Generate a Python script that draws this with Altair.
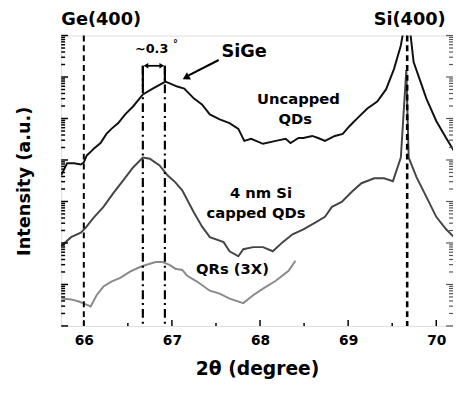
import altair as alt
import pandas as pd
import numpy as np

# ---- data (2theta in degrees, log10 intensity in arbitrary decades) ----
unc_x = [65.743, 65.810, 65.888, 65.966, 66.000, 66.034, 66.089, 66.112, 66.190, 66.257,
         66.313, 66.391, 66.469, 66.559, 66.670, 66.782, 66.927, 67.061, 67.140, 67.251,
         67.341, 67.430, 67.542, 67.654, 67.754, 67.821, 67.899, 68.034, 68.179, 68.291,
         68.346, 68.436, 68.492, 68.592, 68.659, 68.737, 68.849, 68.939, 69.017, 69.106,
         69.218, 69.330, 69.430, 69.520, 69.598, 69.660, 69.709, 69.743, 69.821, 69.888,
         70.000, 70.112, 70.201]
unc_y = [3.63, 3.92, 3.92, 3.89, 3.94, 4.11, 4.22, 4.27, 4.41, 4.63,
         4.75, 4.89, 5.10, 5.29, 5.58, 5.72, 5.89, 5.77, 5.72, 5.48,
         5.34, 5.10, 4.98, 4.89, 4.75, 4.46, 4.51, 4.39, 4.46, 4.51,
         4.41, 4.53, 4.53, 4.58, 4.53, 4.46, 4.58, 4.63, 4.82, 5.01,
         5.24, 5.41, 5.70, 6.19, 6.76, 7.50, 7.00, 6.36, 5.89, 5.48,
         4.94, 4.53, 4.22]

cap_x = [65.743, 65.855, 65.966, 66.022, 66.112, 66.223, 66.335, 66.447, 66.559, 66.670,
         66.749, 66.860, 66.950, 67.039, 67.117, 67.251, 67.341, 67.430, 67.587, 67.654,
         67.754, 67.810, 67.922, 68.034, 68.145, 68.257, 68.369, 68.492, 68.626, 68.737,
         68.816, 68.927, 69.039, 69.151, 69.296, 69.408, 69.508, 69.598, 69.660, 69.687,
         69.777, 69.888, 70.000, 70.112, 70.201]
cap_y = [1.92, 2.14, 2.25, 2.37, 2.61, 2.87, 3.20, 3.51, 3.82, 4.06,
         4.03, 3.87, 3.63, 3.46, 3.27, 2.73, 2.40, 2.14, 2.02, 1.80,
         1.68, 1.85, 1.90, 1.90, 1.80, 2.02, 2.21, 2.33, 2.49, 2.63,
         2.87, 2.99, 3.23, 3.44, 3.56, 3.56, 3.49, 4.06, 6.17, 4.06,
         3.58, 3.11, 2.63, 2.33, 2.14]

qr_x = [65.743, 65.855, 65.944, 66.022, 66.078, 66.145, 66.223, 66.313, 66.413, 66.525,
        66.637, 66.704, 66.816, 66.894, 66.972, 67.039, 67.117, 67.173, 67.285, 67.430,
        67.542, 67.654, 67.810, 67.922, 68.034, 68.179, 68.324, 68.402]
qr_y = [0.66, 0.64, 0.59, 0.52, 0.47, 0.74, 0.95, 1.07, 1.16, 1.31,
        1.42, 1.47, 1.54, 1.54, 1.47, 1.38, 1.35, 1.21, 1.07, 0.85,
        0.78, 0.66, 0.55, 0.74, 0.90, 1.09, 1.33, 1.57]

series_names = ["Uncapped QDs", "4 nm Si capped QDs", "QRs (3X)"]
series_colors = ["#111111", "#454545", "#8a8a8a"]

x_ticks = [66, 67, 68, 69, 70]
x_minor = [66.5, 67.5, 68.5, 69.5]
ref_dashed = [66.0, 69.67]      # Ge(400), Si(400)
ref_dashdot = [66.67, 66.92]    # SiGe peak positions

XDOM = [65.743, 70.19]
YDOM = [0, 7]
W, H = 398, 295
FONT = "DejaVu Sans"

rows = []
for nm, xs_, ys_ in zip(series_names, [unc_x, cap_x, qr_x], [unc_y, cap_y, qr_y]):
    for i, (a, b) in enumerate(zip(xs_, ys_)):
        rows.append({"series": nm, "x": a, "y": b, "o": i})
df = pd.DataFrame(rows)

xs = alt.Scale(domain=XDOM, nice=False, zero=False)
ys = alt.Scale(domain=YDOM, nice=False, zero=False)

curves = alt.Chart(df).mark_line(strokeWidth=2, clip=True).encode(
    x=alt.X("x:Q", scale=xs, axis=alt.Axis(values=x_ticks, format="d", ticks=False, domain=False, grid=False,
                                            labelFont=FONT, labelFontSize=14, labelFontWeight="bold",
                                            labelColor="black", labelPadding=8,
                                            title="2θ (degree)", titleFont=FONT, titleFontSize=19,
                                            titleFontWeight="bold", titleColor="black", titlePadding=12)),
    y=alt.Y("y:Q", scale=ys, axis=alt.Axis(labels=False, ticks=False, domain=False, grid=False,
                                            title="Intensity (a.u.)", titleFont=FONT, titleFontSize=18,
                                            titleFontWeight="bold", titleColor="black", titlePadding=28)),
    color=alt.Color("series:N", scale=alt.Scale(domain=series_names, range=series_colors), legend=None),
    order="o:Q",
)

# dashed reference lines
dash_df = pd.DataFrame({"x": ref_dashed, "w": [2, 2.6]})
dashed = alt.Chart(dash_df).mark_rule(color="black", strokeDash=[6, 4]).encode(
    x=alt.X("x:Q", scale=xs), y=alt.value(0), y2=alt.value(H),
    strokeWidth=alt.StrokeWidth("w:Q", scale=None),
)

br_top = 6.27
dd_df = pd.DataFrame({"x": ref_dashdot, "y": [br_top, br_top], "y2": [0, 0]})
dashdot = alt.Chart(dd_df).mark_rule(color="black", strokeWidth=2.2, strokeDash=[9, 4, 2, 4]).encode(
    x=alt.X("x:Q", scale=xs), y=alt.Y("y:Q", scale=ys), y2="y2:Q",
)
brv_df = pd.DataFrame({"x": ref_dashdot, "y": [br_top, br_top], "y2": [5.77, 5.9]})
bracket_v = alt.Chart(brv_df).mark_rule(color="black", strokeWidth=2.2).encode(
    x=alt.X("x:Q", scale=xs), y=alt.Y("y:Q", scale=ys), y2="y2:Q",
)
brh_df = pd.DataFrame({"x": [ref_dashdot[0] + 0.03], "x2": [ref_dashdot[1] - 0.03], "y": [br_top]})
bracket_h = alt.Chart(brh_df).mark_rule(color="black", strokeWidth=1.8).encode(
    x=alt.X("x:Q", scale=xs), x2="x2:Q", y=alt.Y("y:Q", scale=ys),
)
head_df = pd.DataFrame({"x": [ref_dashdot[0] + 0.035, ref_dashdot[1] - 0.035],
                        "y": [br_top, br_top], "s": ["triangle-left", "triangle-right"]})
heads = alt.Chart(head_df).mark_point(filled=True, color="black", size=30, opacity=1).encode(
    x=alt.X("x:Q", scale=xs), y=alt.Y("y:Q", scale=ys),
    shape=alt.Shape("s:N", scale=None),
)

# SiGe arrow
arr_df = pd.DataFrame({"x": [67.531], "y": [6.41], "x2": [67.19], "y2": [6.04]})
arrow_line = alt.Chart(arr_df).mark_rule(color="black", strokeWidth=2.2).encode(
    x=alt.X("x:Q", scale=xs), y=alt.Y("y:Q", scale=ys), x2="x2:Q", y2="y2:Q",
)
arrow_head = alt.Chart(pd.DataFrame({"x": [67.17], "y": [6.0]})).mark_point(
    shape="triangle", filled=True, color="black", size=70, angle=241, opacity=1).encode(
    x=alt.X("x:Q", scale=xs), y=alt.Y("y:Q", scale=ys),
)

# texts
txt_df = pd.DataFrame([
    {"t": "Ge(400)", "x": 65.745, "y": 7.38, "fs": 18, "al": "left"},
    {"t": "Si(400)", "x": 69.698, "y": 7.38, "fs": 18, "al": "center"},
    {"t": "~0.3", "x": 66.77, "y": 6.67, "fs": 13, "al": "center"},
    {"t": "°", "x": 67.04, "y": 6.80, "fs": 10, "al": "center"},
    {"t": "SiGe", "x": 67.82, "y": 6.60, "fs": 18, "al": "center"},
    {"t": "Uncapped", "x": 68.436, "y": 5.46, "fs": 15, "al": "center"},
    {"t": "QDs", "x": 68.40, "y": 4.98, "fs": 15, "al": "center"},
    {"t": "4 nm Si", "x": 68.011, "y": 3.20, "fs": 15, "al": "center"},
    {"t": "capped QDs", "x": 67.955, "y": 2.73, "fs": 15, "al": "center"},
    {"t": "QRs (3X)", "x": 67.687, "y": 1.38, "fs": 15, "al": "center"},
])
texts = []
for al in ["left", "center"]:
    sub = txt_df[txt_df["al"] == al]
    texts.append(alt.Chart(sub).mark_text(font=FONT, fontWeight="bold", color="black",
                                          align=al, baseline="middle").encode(
        x=alt.X("x:Q", scale=xs), y=alt.Y("y:Q", scale=ys), text="t:N",
        size=alt.Size("fs:Q", scale=None),
    ))

# inward tick marks
maj_y = list(range(0, 8))
min_y = [k + float(np.log10(m)) for k in range(0, 7) for m in range(2, 10)]
ytick_maj = pd.DataFrame({"y": maj_y})
ytick_min = pd.DataFrame({"y": min_y})
tick_layers = []
for d, ln in [(ytick_maj, 7), (ytick_min, 4)]:
    tick_layers.append(alt.Chart(d).mark_rule(color="black", strokeWidth=1.5).encode(
        y=alt.Y("y:Q", scale=ys), x=alt.value(0), x2=alt.value(ln)))
    tick_layers.append(alt.Chart(d).mark_rule(color="#555555", strokeWidth=1.2).encode(
        y=alt.Y("y:Q", scale=ys), x=alt.value(W), x2=alt.value(W - ln)))
for d, ln in [(pd.DataFrame({"x": x_ticks}), 6), (pd.DataFrame({"x": x_minor}), 3)]:
    tick_layers.append(alt.Chart(d).mark_rule(color="black", strokeWidth=1.5).encode(
        x=alt.X("x:Q", scale=xs), y=alt.value(H), y2=alt.value(H - ln)))

chart = alt.layer(curves, dashed, dashdot, bracket_v, bracket_h, heads, arrow_line, arrow_head,
                  *texts, *tick_layers).properties(
    width=W, height=H,
    autosize=alt.AutoSizeParams(type="none"),
    padding={"left": 54, "top": 25, "right": 0, "bottom": 55},
).configure_view(stroke="black", strokeWidth=2.5).configure(background="white")

chart.save("out.html", embed_options={"renderer": "svg", "actions": False})
